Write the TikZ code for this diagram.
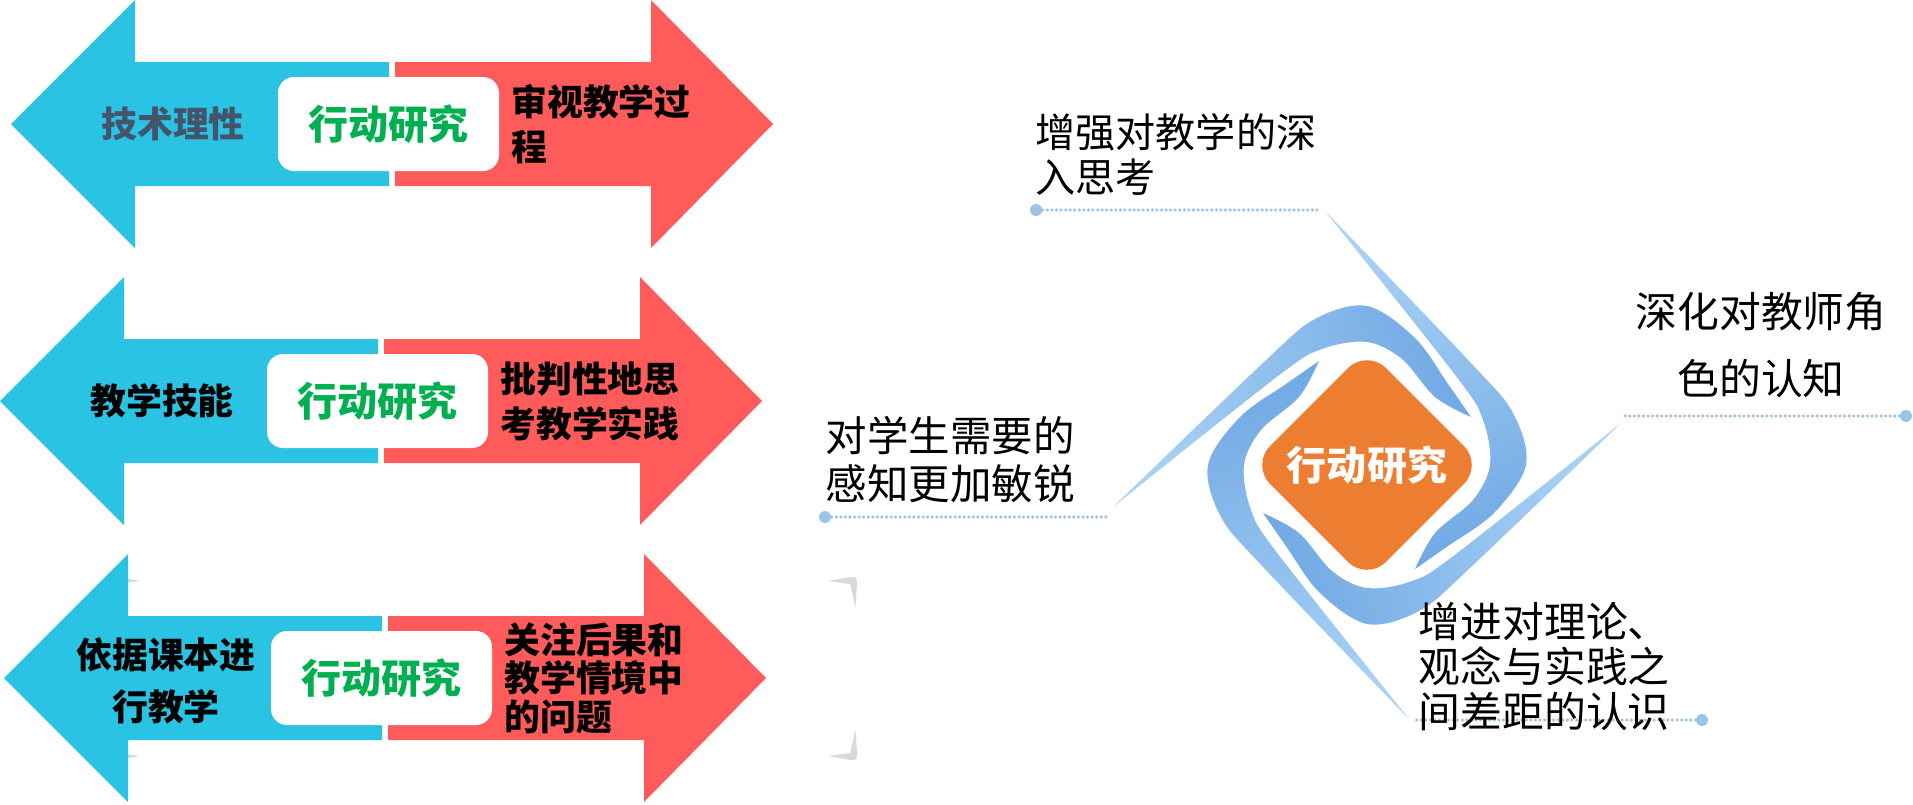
\documentclass[tikz,border=0pt]{standalone}
\usepackage{fontspec}
\setmainfont{Noto Sans CJK SC}
\usetikzlibrary{positioning,calc}
\definecolor{ArrowBlue}{HTML}{2AC3E3}
\definecolor{ArrowRed}{HTML}{FF5B5B}
\definecolor{ActGreen}{HTML}{00B050}
\definecolor{SlateText}{HTML}{44546A}
\definecolor{CoreOrange}{HTML}{ED7D31}
\definecolor{SwirlLight}{HTML}{AAD2F5}
\definecolor{SwirlDark}{HTML}{72AAE4}
\definecolor{LeadBlue}{HTML}{9DC3E6}
\definecolor{BracketGray}{HTML}{D9D9D9}

\tikzset{
  midbox/.style={fill=white, rounded corners=0.16cm, minimum width=2.21cm, minimum height=0.94cm, inner sep=0},
  midtxt/.style={font=\bfseries\fontsize{11.4pt}{13pt}\selectfont, text=ActGreen, inner sep=0},
  sidetxt/.style={font=\bfseries\fontsize{10.2pt}{14.8pt}\selectfont, align=center, inner sep=0},
  redtxt/.style={font=\bfseries\fontsize{10.2pt}{12.8pt}\selectfont, align=left, inner sep=0},
  note/.style={inner sep=0},
  dotc/.style={circle, fill=LeadBlue, minimum size=0.12cm, inner sep=0},
  leader/.style={LeadBlue, line width=1pt, line cap=round, dash pattern=on 0pt off 1.3pt},
  swirl/.style={shading=axis, bottom color=SwirlLight, top color=SwirlDark, shading angle=-76},
  corebox/.style={fill=CoreOrange, rounded corners=0.27cm, minimum width=1.64cm, minimum height=1.64cm, inner sep=0, rotate=45},
  coretxt/.style={font=\bfseries\fontsize{11.4pt}{13pt}\selectfont, text=white, inner sep=0}
}

\begin{document}
\begin{tikzpicture}[x=1cm,y=1cm]
    \useasboundingbox (0,0) rectangle (19.13,8.04);

    % Corner marks behind the lower pair
    \foreach \sx in {1,-1}
      \foreach \sy in {1,-1}
        \fill[BracketGray, shift={(4.84,1.355)}, xscale=\sx, yscale=\sy] (3.44,0.875) -- (3.66,0.915) .. controls (3.73,0.915) .. (3.73,0.845) -- (3.715,0.615) -- (3.67,0.805) .. controls (3.67,0.845) .. (3.62,0.85) -- cycle;

    % Arrow pairs
    \foreach \ax/\ay [count=\n] in {0.11/6.80, 0/4.03, 0.04/1.26}{
      \begin{scope}[shift={(\ax,\ay)}]
        \fill[ArrowBlue] (0,0) -- (1.24,1.24) -- (1.24,0.62) -- (3.78,0.62) -- (3.78,-0.62) -- (1.24,-0.62) -- (1.24,-1.24) -- cycle;
        \fill[ArrowRed] (3.84,0.62) -- (6.40,0.62) -- (6.40,1.24) -- (7.62,0) -- (6.40,-1.24) -- (6.40,-0.62) -- (3.84,-0.62) -- cycle;
        \node[midbox] (box\n) at (3.775,0) {};
        \node[midtxt] (act\n) at (box\n) {行动研究};
      \end{scope}
    }

    % Left labels
    \node[sidetxt, text=SlateText] (side1) at (1.73,6.80) {技术理性};
    \node[sidetxt] (side2) at (1.62,4.03) {教学技能};
    \node[sidetxt] (side3) at (1.66,1.235) {依据课本进\\行教学};

    % Right labels
    \node[redtxt, right=0.11cm of box1] (red1) {审视教学过\\程};
    \node[redtxt, right=0.11cm of box2] (red2) {批判性地思\\考教学实践};
    \node[redtxt, right=0.11cm of box3, font=\bfseries\fontsize{10.2pt}{11pt}\selectfont] (red3) {关注后果和\\教学情境中\\的问题};

    % Swirl
    \foreach \a in {0,-90,-180,-270}{
      \begin{scope}[transform canvas={shift={(13.67,3.39)}, rotate=\a}]
        \shade[swirl] plot[smooth, tension=0.55] coordinates {(-2.54,-0.42) (-1.03,1.03) (-0.52,1.46) (0,1.59) (0.48,1.27) (0.81,0.81) (1.04,0.48)}
          -- plot[smooth, tension=0.55] coordinates {(1.04,0.48) (0.68,0.68) (0.35,1.06) (0,1.23) (-0.45,1.16) (-0.89,0.89) (-2.54,-0.42)} -- cycle;
      \end{scope}
    }

    % Core
    \node[corebox] (core) at (13.67,3.39) {};
    \node[coretxt] (coretitle) at (core) {行动研究};

    % Leaders
    \node[dotc] (d1) at (10.36,5.94) {};
    \coordinate (e1) at (13.20,5.94);
    \draw[leader] (d1) -- (e1);
    \node[dotc] (d2) at (8.25,2.87) {};
    \coordinate (e2) at (11.08,2.87);
    \draw[leader] (d2) -- (e2);
    \node[dotc] (d3) at (19.06,3.88) {};
    \coordinate (e3) at (16.23,3.88);
    \draw[leader] (d3) -- (e3);
    \node[dotc] (d4) at (17.02,0.84) {};
    \coordinate (e4) at (14.15,0.84);
    \draw[leader] (d4) -- (e4);

    % Effects
    \node[note, anchor=west, align=left, font=\fontsize{11.4pt}{12.8pt}\selectfont] (n1) at (10.35,6.495) {增强对教学的深\\入思考};
    \node[note, anchor=west, align=left, font=\fontsize{11.8pt}{13.7pt}\selectfont] (n2) at (8.25,3.44) {对学生需要的\\感知更加敏锐};
    \node[note, align=center, font=\fontsize{11.9pt}{18.8pt}\selectfont] (n3) at (17.61,4.59) {深化对教师角\\色的认知};
    \node[note, anchor=west, align=left, font=\fontsize{11.9pt}{12.7pt}\selectfont] (n4) at (14.18,1.375) {增进对理论、\\观念与实践之\\间差距的认识};
  \end{tikzpicture}
\end{document}
